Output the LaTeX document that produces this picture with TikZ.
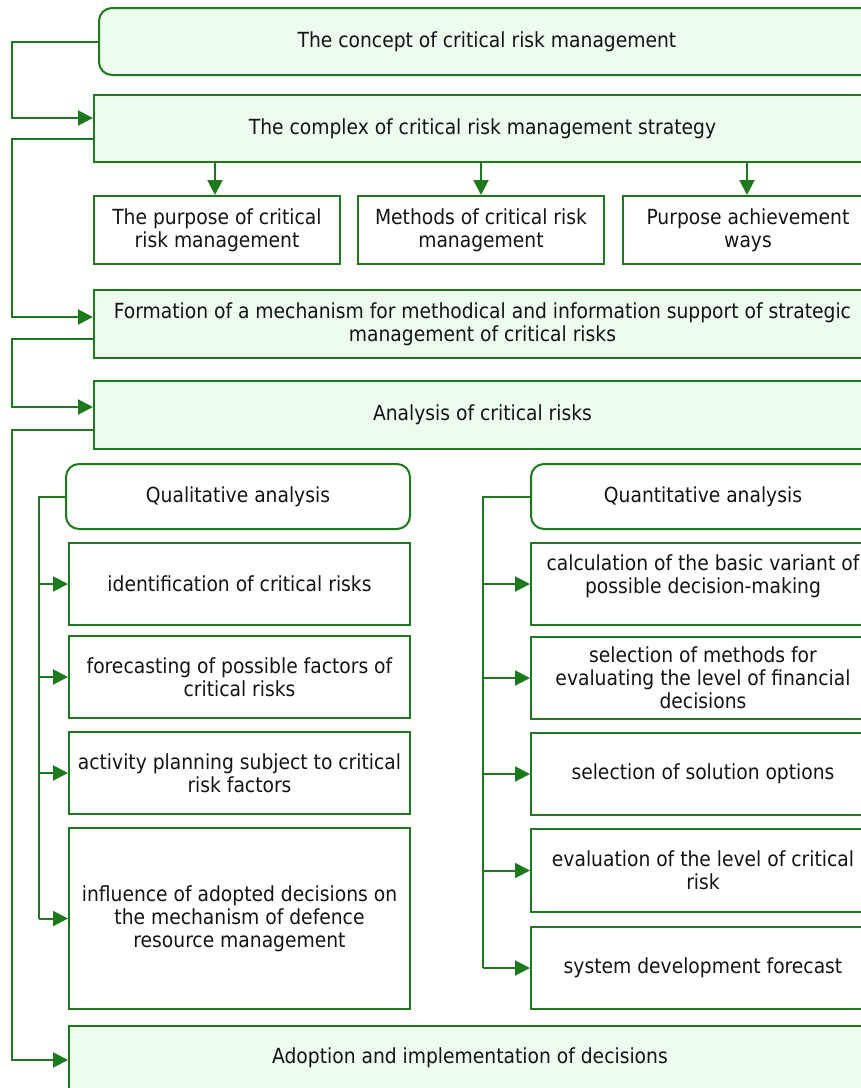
\documentclass[tikz,border=0pt]{standalone}
\usepackage{fontspec}
\setmainfont{DejaVu Sans Condensed}
\usetikzlibrary{arrows.meta,calc}
\definecolor{gline}{HTML}{1C7A1C}
\definecolor{gfill}{HTML}{EDFCEE}
\definecolor{tcol}{HTML}{141414}
\tikzset{
  base/.style={draw=gline, line width=2pt, inner sep=0pt, align=center, text=tcol,
     font=\fontsize{20.8}{23}\selectfont},
  mainbox/.style={base, fill=gfill},
  roundmain/.style={base, fill=gfill, rounded corners=13pt},
  subbox/.style={base, fill=white},
  roundsub/.style={base, fill=white, rounded corners=13pt},
  conn/.style={draw=gline, line width=2pt},
  arr/.style={conn, -{Triangle[length=15pt,width=15pt]}},
}
\begin{document}
\begin{tikzpicture}[x=1pt,y=-1pt]
\useasboundingbox (0,0) rectangle (861,1088);
\clip (0,0) rectangle (861,1088);
\fill[white] (0,0) rectangle (861,1088);

\node[roundmain, minimum width=776pt, minimum height=67pt] (b1) at (487,41.5) {The concept of critical risk management};
\node[mainbox, minimum width=777pt, minimum height=67pt] (b2) at (482.5,128.5) {The complex of critical risk management strategy};
\node[subbox, minimum width=246pt, minimum height=68pt] (sa) at (217,230) {The purpose of critical\\risk management};
\node[subbox, minimum width=246pt, minimum height=68pt] (sb) at (481,230) {Methods of critical risk\\management};
\node[subbox, minimum width=250pt, minimum height=68pt] (sc) at (748,230) {Purpose achievement\\ways};
\node[mainbox, minimum width=777pt, minimum height=68pt] (b3) at (482.5,324) {Formation of a mechanism for methodical and information support of strategic\\management of critical risks};
\node[mainbox, minimum width=777pt, minimum height=68pt] (b4) at (482.5,415) {Analysis of critical risks};

\node[roundsub, minimum width=344pt, minimum height=65pt] (ql) at (238,496.5) {Qualitative analysis};
\node[subbox, minimum width=341pt, minimum height=82pt] (q1) at (239.5,584) {identification of critical risks};
\node[subbox, minimum width=341pt, minimum height=82pt] (q2) at (239.5,677) {forecasting of possible factors of\\critical risks};
\node[subbox, minimum width=341pt, minimum height=82pt] (q3) at (239.5,773) {activity planning subject to critical\\risk factors};
\node[subbox, minimum width=341pt, minimum height=181pt] (q4) at (239.5,918.5) {influence of adopted decisions on\\the mechanism of defence\\resource management};

\node[roundsub, minimum width=344pt, minimum height=65pt] (qn) at (703,496.5) {Quantitative analysis};
\node[subbox, minimum width=344pt, minimum height=82pt] (n1) at (703,584) {calculation of the basic variant of\\possible decision-making\\[-4pt]};
\node[subbox, minimum width=344pt, minimum height=82pt] (n2) at (703,678) {selection of methods for\\evaluating the level of financial\\decisions};
\node[subbox, minimum width=344pt, minimum height=82pt] (n3) at (703,774) {selection of solution options};
\node[subbox, minimum width=344pt, minimum height=83pt] (n4) at (703,870.5) {evaluation of the level of critical\\risk};
\node[subbox, minimum width=344pt, minimum height=82pt] (n5) at (703,968) {system development forecast};

\node[mainbox, minimum width=802pt, minimum height=64pt] (fin) at (470,1058) {Adoption and implementation of decisions};

% left trunk connectors
\coordinate (t1) at (12,41.5);
\coordinate (t2) at (12,139);
\coordinate (t3) at (12,339);
\coordinate (t4) at (12,430);
\draw[arr] (b1.west) -- (t1) |- (b2.west |- 0,118);
\draw[arr] (b2.west |- t2) -- (t2) |- (b3.west |- 0,317);
\draw[arr] (b3.west |- t3) -- (t3) |- (b4.west |- 0,407);
\draw[arr] (b4.west |- t4) -- (t4) |- (fin.west |- 0,1060);

% down arrows
\draw[arr] (b2.south -| 215,0) -- (sa.north -| 215,0);
\draw[arr] (b2.south -| sb.north) -- (sb.north);
\draw[arr] (b2.south -| 747,0) -- (sc.north -| 747,0);

% qualitative branch
\coordinate (qa) at (39,496.5);
\coordinate (qb) at (39,918.5);
\draw[conn] (ql.west) -- (qa) -- (qb);
\foreach \n in {q1,q2,q3,q4} \draw[arr] (qa |- \n.west) -- (\n.west);

% quantitative branch
\coordinate (na) at (483,496.5);
\coordinate (nb) at (483,968);
\draw[conn] (qn.west) -- (na) -- (nb);
\foreach \n in {n1,n2,n3,n4,n5} \draw[arr] (na |- \n.west) -- (\n.west);
\end{tikzpicture}
\end{document}
